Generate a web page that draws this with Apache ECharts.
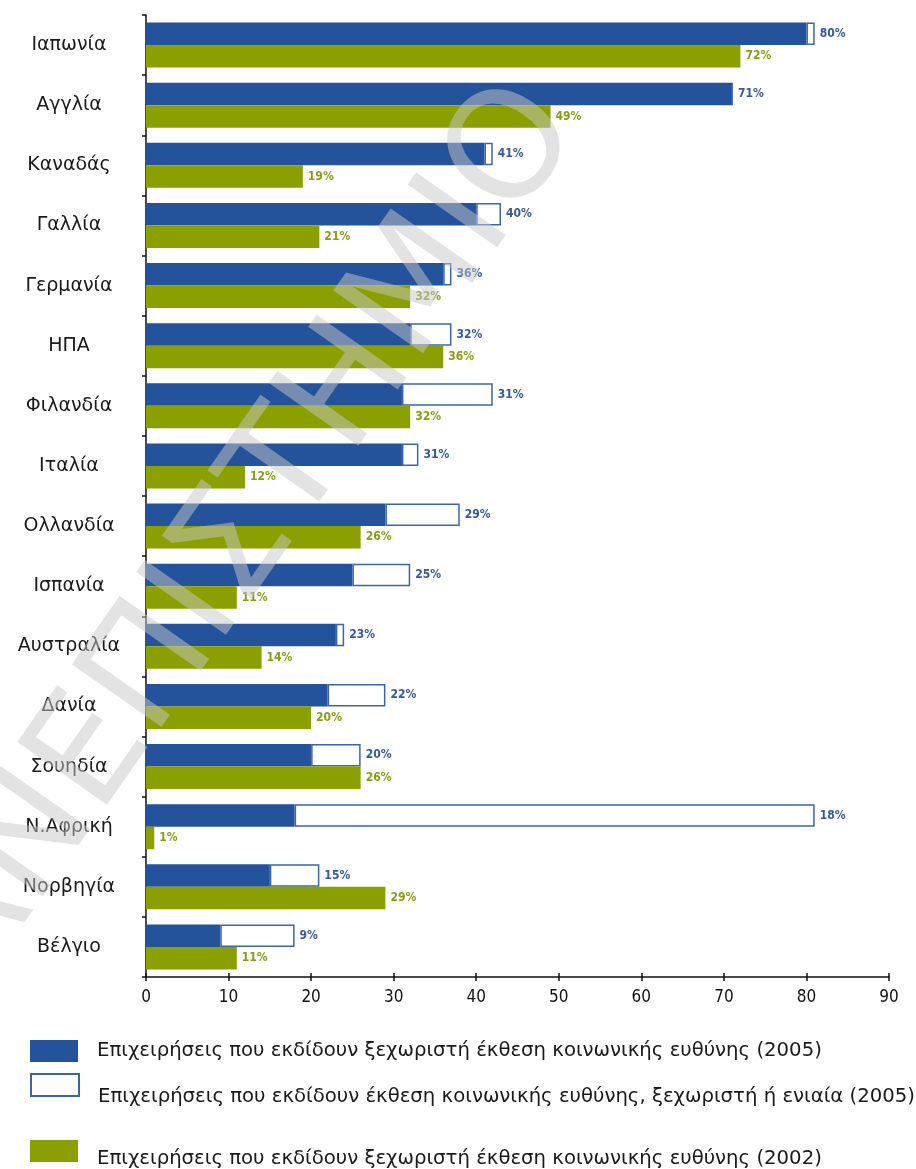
<!DOCTYPE html>
<html>
<head>
<meta charset="utf-8">
<script src="https://cdn.jsdelivr.net/npm/echarts@6/dist/echarts.min.js"></script>
<style>
  html, body { margin: 0; padding: 0; background: #ffffff; }
  #chart { width: 916px; height: 1169px; }
</style>
</head>
<body>
<div id="chart"></div>
<script>
// Countries, top to bottom
const categories = ['Ιαπωνία', 'Αγγλία', 'Καναδάς', 'Γαλλία', 'Γερμανία', 'ΗΠΑ', 'Φιλανδία', 'Ιταλία',
  'Ολλανδία', 'Ισπανία', 'Αυστραλία', 'Δανία', 'Σουηδία', 'Ν.Αφρική', 'Νορβηγία', 'Βέλγιο'];

// Share of companies (%) issuing a separate CSR report, 2005
const separate2005 = [80, 71, 41, 40, 36, 32, 31, 31, 29, 25, 23, 22, 20, 18, 15, 9];
// Share of companies (%) issuing a CSR report, separate or integrated, 2005
const anyReport2005 = [81, 71, 42, 43, 37, 37, 42, 33, 38, 32, 24, 29, 26, 81, 21, 18];
// Share of companies (%) issuing a separate CSR report, 2002
const separate2002 = [72, 49, 19, 21, 32, 36, 32, 12, 26, 11, 14, 20, 26, 1, 29, 11];

const xMin = 0, xMax = 90, xStep = 10;

const seriesNames = [
  'Επιχειρήσεις που εκδίδουν ξεχωριστή έκθεση κοινωνικής ευθύνης (2005)',
  'Επιχειρήσεις που εκδίδουν έκθεση κοινωνικής ευθύνης, ξεχωριστή ή ενιαία (2005)',
  'Επιχειρήσεις που εκδίδουν ξεχωριστή έκθεση κοινωνικής ευθύνης (2002)'
];

const BLUE = '#24529b';
const OUTLINE = '#3a64b0';
const GREEN = '#8a9f00';
const textFont = '"DejaVu Sans", "Liberation Sans", sans-serif';
const narrowFont = '"Liberation Sans Narrow", "DejaVu Sans Condensed", sans-serif';

// the outlined bar continues the blue one up to the combined total
const extraPart = anyReport2005.map((t, i) => t - separate2005[i]);

const chart = echarts.init(document.getElementById('chart'), null, { renderer: 'canvas' });

// one legend block per entry so each can sit at its own height;
// a leading empty line pushes the text below the middle of its swatch
function legendEntry(name, top, lead, leadHeight) {
  return {
    data: [name], left: 30, top: top,
    orient: 'vertical', icon: 'rect', itemWidth: 48, itemHeight: 22,
    padding: 0, selectedMode: false,
    formatter: n => lead + n,
    textStyle: {
      fontFamily: textFont, fontSize: 19.7, color: '#1a1a1a',
      padding: [0, 0, 0, 14], lineHeight: leadHeight
    }
  };
}

chart.setOption({
  backgroundColor: '#ffffff',
  animation: false,
  grid: { left: 146, right: 27, top: 15, bottom: 192, containLabel: false },
  xAxis: [
    {
      type: 'value', min: xMin, max: xMax, interval: xStep,
      axisLine: { show: true, lineStyle: { color: '#111', width: 1.5 } },
      axisTick: { show: true, length: 4, lineStyle: { color: '#111', width: 1.5 } },
      axisLabel: { fontFamily: narrowFont, fontSize: 17, color: '#111', margin: 12 },
      splitLine: { show: false }
    },
    {
      type: 'value', min: xMin, max: xMax, interval: xStep, position: 'bottom',
      axisLine: { show: false },
      axisTick: { show: true, inside: true, length: 4, lineStyle: { color: '#111', width: 1.5 } },
      axisLabel: { show: false },
      splitLine: { show: false }
    }
  ],
  yAxis: {
    type: 'category', data: categories, inverse: true,
    axisLine: { show: true, lineStyle: { color: '#111', width: 1.5 } },
    axisTick: { show: true, length: 4, lineStyle: { color: '#111', width: 1.5 } },
    axisLabel: { fontFamily: textFont, fontSize: 19, color: '#1a1a1a', align: 'center', margin: 77 }
  },
  legend: [
    legendEntry(seriesNames[0], 1039, '', 24),
    legendEntry(seriesNames[1], 1061, '\n', 24),
    legendEntry(seriesNames[2], 1133, '\n', 16)
  ],
  series: [
    {
      name: seriesNames[0], type: 'bar', stack: 'y2005', data: separate2005,
      barCategoryGap: '25%', barGap: '0%',
      itemStyle: { color: BLUE }
    },
    {
      name: seriesNames[1], type: 'bar', stack: 'y2005', data: extraPart,
      barCategoryGap: '25%', barGap: '0%',
      itemStyle: { color: '#ffffff', borderColor: OUTLINE, borderWidth: 1.5 },
      label: {
        show: true, position: 'right', distance: 5,
        formatter: p => separate2005[p.dataIndex] + '%',
        fontFamily: narrowFont, fontWeight: 'bold', fontSize: 12, color: '#34589e'
      }
    },
    {
      name: seriesNames[2], type: 'bar', data: separate2002,
      barCategoryGap: '25%', barGap: '0%',
      itemStyle: { color: GREEN },
      label: {
        show: true, position: 'right', distance: 5,
        formatter: p => p.value + '%',
        fontFamily: narrowFont, fontWeight: 'bold', fontSize: 12, color: '#8a9c10'
      }
    }
  ],
  graphic: [
    {
      type: 'text', silent: true, z: 100,
      x: 550, y: 104, rotation: 55 * Math.PI / 180,
      style: {
        text: 'ΠΑΝΕΠΙΣΤΗΜΙΟ',
        fontFamily: '"DejaVu Sans", sans-serif', fontSize: 150,
        fill: 'rgba(200,200,200,0.5)',
        align: 'right', verticalAlign: 'middle'
      }
    }
  ]
});
</script>
</body>
</html>
